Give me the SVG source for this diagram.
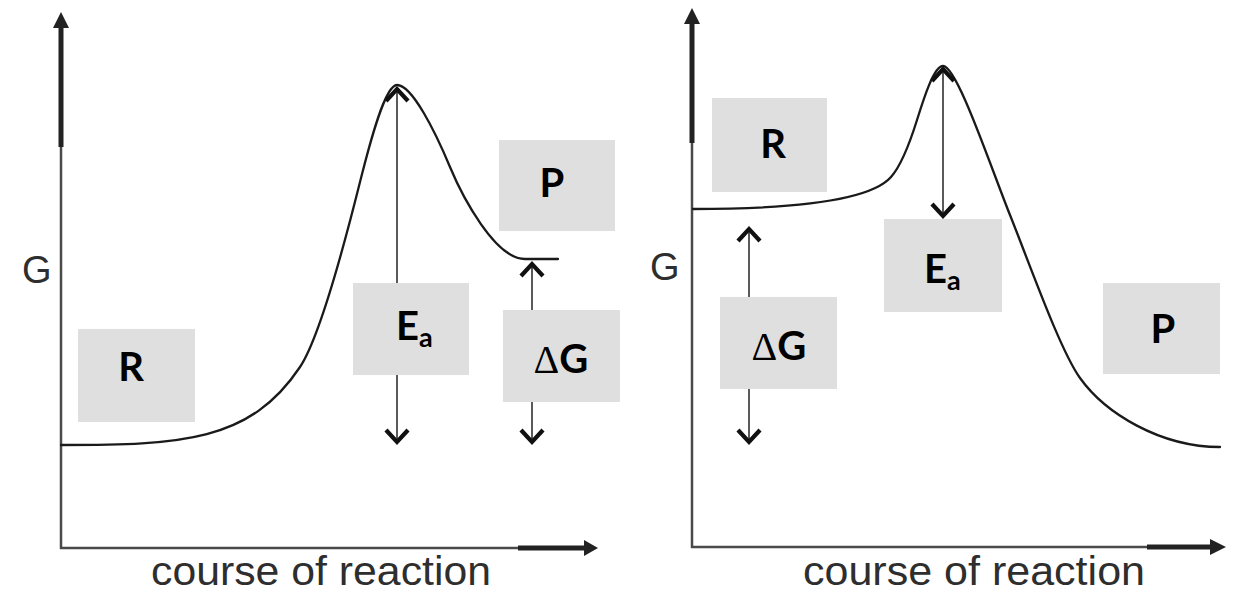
<svg xmlns="http://www.w3.org/2000/svg" width="1241" height="594" viewBox="0 0 1241 594">
<style>
.thin{stroke:#4a4a4a;stroke-width:2.5;fill:none}
.thick{stroke:#222;stroke-width:5;fill:none}
.head{fill:#222}
.curve{fill:none;stroke:#1a1a1a;stroke-width:2.3;stroke-linecap:round}
.box{fill:#dfdfdf}
.lbl{font-family:Lato,'Open Sans',sans-serif;font-weight:700;font-size:40px;fill:#000}
.delta{font-family:'Liberation Serif',serif;font-weight:400}
.ax{font-family:'Liberation Sans',Arial,sans-serif;fill:#2e2e2e}
.dbl{stroke:#5a5a5a;stroke-width:2;fill:none;marker-start:url(#chev);marker-end:url(#chev)}
</style>
<defs>
<marker id="chev" viewBox="-18 -14 22 28" markerWidth="22" markerHeight="28" markerUnits="userSpaceOnUse" refX="0" refY="0" orient="auto-start-reverse" overflow="visible">
<path d="M-13,-11 L-1,0 L-13,11" fill="none" stroke="#111" stroke-width="4.2" stroke-linejoin="miter"/>
</marker>
</defs>

<g id="left-panel-axes">
<line class="thin" x1="61" y1="147" x2="61" y2="549"/>
<line class="thick" x1="61" y1="27" x2="61" y2="147"/>
<polygon class="head" points="61,12 53,28 69,28"/>
<line class="thin" x1="60" y1="548" x2="518" y2="548"/>
<line class="thick" x1="518" y1="548" x2="586" y2="548"/>
<polygon class="head" points="598,548 584,540 584,556"/>
<text class="ax" x="22" y="283" font-size="38">G</text>
<text class="ax" x="151" y="585" font-size="41" textLength="340" lengthAdjust="spacingAndGlyphs">course of reaction</text>
</g>

<g id="right-panel-axes">
<line class="thin" x1="692" y1="143" x2="692" y2="548"/>
<line class="thick" x1="692" y1="23" x2="692" y2="143"/>
<polygon class="head" points="692,8 684,24 700,24"/>
<line class="thin" x1="691" y1="547" x2="1147" y2="547"/>
<line class="thick" x1="1147" y1="547" x2="1212" y2="547"/>
<polygon class="head" points="1226,547 1210,539 1210,555"/>
<text class="ax" x="650" y="280" font-size="38">G</text>
<text class="ax" x="803" y="585" font-size="41" textLength="342" lengthAdjust="spacingAndGlyphs">course of reaction</text>
</g>

<g id="connectors">
<path id="curve-left" class="curve" d="M61,445 C181,445 250,442 300,367 C320,337 345,242 360,182 C370,142 385,85 397,85 C412,85 435,131 450,167 C462,195.8 495,259 525,259 L558,259"/>
<path id="curve-right" class="curve" d="M693,209 C793,209 870,201 891,177 C899,168 909,145.6 917,120 C924,97.6 934,66 943,66 C957,66 990,165 1010,215 C1030,265 1060,350 1080,378 C1105,413 1160,447 1220,447"/>
<line id="ea-left-arrow" class="dbl" x1="397" y1="88" x2="397" y2="443"/>
<line id="dg-left-arrow" class="dbl" x1="532" y1="263" x2="532" y2="443"/>
<line id="ea-right-arrow" class="dbl" x1="943" y1="68" x2="943" y2="217"/>
<line id="dg-right-arrow" class="dbl" x1="749" y1="228" x2="749" y2="443"/>
</g>

<g id="node-R-left">
<rect class="box" x="78" y="329" width="117" height="93"/>
<text class="lbl" x="131" y="381" text-anchor="middle">R</text>
</g>
<g id="node-Ea-left">
<rect class="box" x="353" y="283" width="116" height="92"/>
<text class="lbl" x="396" y="340">E<tspan font-size="27" dy="7">a</tspan></text>
</g>
<g id="node-P-left">
<rect class="box" x="499" y="140" width="116" height="91"/>
<text class="lbl" x="552" y="197" text-anchor="middle">P</text>
</g>
<g id="node-dG-left">
<rect class="box" x="503" y="310" width="117" height="92"/>
<text class="lbl" x="561" y="373" text-anchor="middle"><tspan class="delta">Δ</tspan>G</text>
</g>

<g id="node-R-right">
<rect class="box" x="712" y="98" width="115" height="94"/>
<text class="lbl" x="773" y="158" text-anchor="middle">R</text>
</g>
<g id="node-Ea-right">
<rect class="box" x="884" y="219" width="118" height="93"/>
<text class="lbl" x="924" y="283">E<tspan font-size="27" dy="7">a</tspan></text>
</g>
<g id="node-dG-right">
<rect class="box" x="720" y="297" width="117" height="92"/>
<text class="lbl" x="779" y="360" text-anchor="middle"><tspan class="delta">Δ</tspan>G</text>
</g>
<g id="node-P-right">
<rect class="box" x="1103" y="283" width="117" height="91"/>
<text class="lbl" x="1163" y="343" text-anchor="middle">P</text>
</g>
</svg>
